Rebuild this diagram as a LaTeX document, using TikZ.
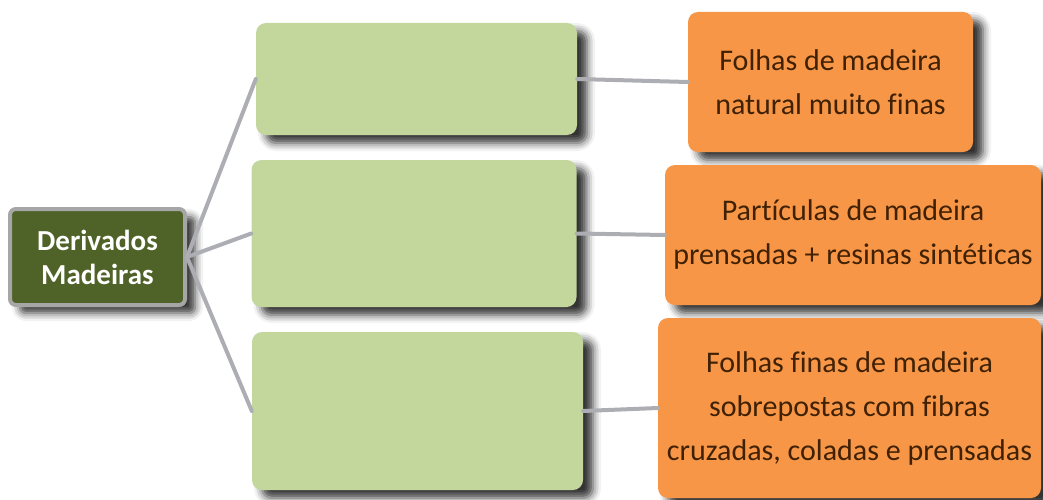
\documentclass[tikz,border=0pt]{standalone}
\usepackage{fontspec}
\setmainfont[Ligatures=NoCommon]{Carlito}
\usetikzlibrary{shadows.blur}
\definecolor{D}{RGB}{79,98,40}
\definecolor{L}{RGB}{195,214,155}
\definecolor{O}{RGB}{247,150,70}
\definecolor{B}{RGB}{64,33,4}
\definecolor{C}{RGB}{172,174,180}
\definecolor{R}{RGB}{166,166,166}
\def\Xscale{1043}
\def\Yscale{500}

\begin{document}
\begin{tikzpicture}[x=1pt,y=-1pt,
    box/.style={rounded corners=10pt,inner sep=0pt,blur shadow={shadow xshift=10pt,shadow yshift=-8pt,shadow blur radius=8pt,shadow opacity=80}},
    leaf/.style={box,fill=O,text=B,align=center,font=\fontsize{30}{44}\selectfont},
    mid/.style={box,fill=L},
    link/.style={C,line width=4pt,line cap=round}]
    \path[use as bounding box] (0,0) rectangle (\Xscale,\Yscale);
    % root
    \node[box,rounded corners=6pt,fill=D,draw=R,line width=4pt,text=white,align=center,
        minimum width=175pt,minimum height=96pt,font=\bfseries\fontsize{29}{34}\selectfont]
        (root) at (97.5,257) {Derivados\\Madeiras};
    % middle column, left empty
    \node[mid,minimum width=321pt,minimum height=112pt] (g1) at (416.5,79) {};
    \node[mid,minimum width=325pt,minimum height=147pt] (g2) at (414,233.5) {};
    \node[mid,minimum width=331pt,minimum height=158pt] (g3) at (417.5,411) {};
    % right column
    \node[leaf,minimum width=285pt,minimum height=140pt] (o1) at (830.5,82) {Folhas de madeira\\natural muito finas};
    \node[leaf,minimum width=376pt,minimum height=140pt] (o2) at (853,235) {Partículas de madeira\\prensadas + resinas sintéticas};
    \node[leaf,minimum width=383pt,minimum height=180pt] (o3) at (849.5,408) {Folhas finas de madeira\\sobrepostas com fibras\\cruzadas, coladas e prensadas};
    \foreach \N in {1,2,3} {
        \draw[link] (root.east) -- (g\N.west);
        \draw[link] (g\N.east) -- (o\N.west);
    }
\end{tikzpicture}
\end{document}
